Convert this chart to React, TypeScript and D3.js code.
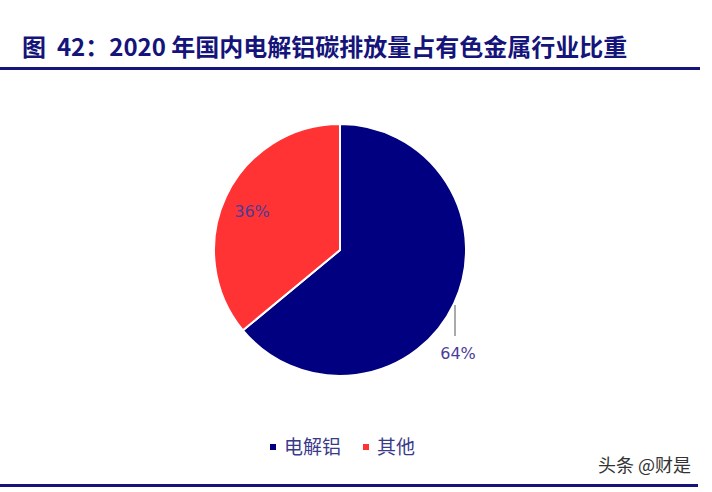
import { useEffect, useRef } from "react";
import { select, pie, arc } from "d3";

const categories = ["电解铝", "其他"];
const values = [64, 36];
const colors = ["#000080", "#ff3333"];

const App = () => {
  const ref = useRef<SVGSVGElement>(null);
  useEffect(() => {
    if (!ref.current) return;
    const svg = select(ref.current);
    svg.selectAll("*").remove();

    const font = "'Noto Sans CJK SC', 'Noto Sans', sans-serif";

    // title
    svg
      .append("text")
      .attr("x", 22)
      .attr("y", 56)
      .attr("font-family", font)
      .attr("font-weight", "bold")
      .attr("font-size", 24)
      .attr("fill", "#14147a")
      .style("white-space", "pre")
      .text("图  42：2020 年国内电解铝碳排放量占有色金属行业比重");

    svg.append("rect").attr("x", 0).attr("y", 67).attr("width", 700).attr("height", 3).attr("fill", "#14147a");
    svg.append("rect").attr("x", 0).attr("y", 484).attr("width", 698).attr("height", 3).attr("fill", "#14147a");

    const cx = 340;
    const cy = 250;
    const r = 126;
    const g = svg.append("g").attr("transform", `translate(${cx},${cy})`);

    const arcs = pie<number>().sort(null)(values);
    const a = arc<any>().innerRadius(0).outerRadius(r);

    g.selectAll("path")
      .data(arcs)
      .enter()
      .append("path")
      .attr("d", a)
      .attr("fill", (_d, i) => colors[i])
      .attr("stroke", "#fff")
      .attr("stroke-width", 2);

    const labelColor = "#4a3d99";
    // 64% with leader line (outside)
    g.append("line")
      .attr("x1", 115)
      .attr("y1", 55)
      .attr("x2", 115)
      .attr("y2", 86)
      .attr("stroke", "#aaaaaa")
      .attr("stroke-width", 2);
    g.append("text")
      .attr("x", 118)
      .attr("y", 109)
      .attr("text-anchor", "middle")
      .attr("font-family", "'DejaVu Sans', sans-serif")
      .attr("font-size", 16)
      .attr("fill", labelColor)
      .text(`${values[0]}%`);
    // 36% inside
    g.append("text")
      .attr("x", -88)
      .attr("y", -33)
      .attr("text-anchor", "middle")
      .attr("font-family", "'DejaVu Sans', sans-serif")
      .attr("font-size", 16)
      .attr("fill", labelColor)
      .text(`${values[1]}%`);

    // legend
    const legendX = [270, 363];
    categories.forEach((c, i) => {
      svg
        .append("rect")
        .attr("x", legendX[i])
        .attr("y", 444)
        .attr("width", 6)
        .attr("height", 6)
        .attr("fill", colors[i]);
      svg
        .append("text")
        .attr("x", legendX[i] + 14)
        .attr("y", 454)
        .attr("font-family", font)
        .attr("font-size", 19)
        .attr("fill", "#3a3a8a")
        .text(c);
    });

    svg
      .append("text")
      .attr("x", 598)
      .attr("y", 472)
      .attr("font-family", font)
      .attr("font-size", 18)
      .attr("fill", "#333")
      .text("头条 @财是");
  }, []);

  return (
    <svg
      ref={ref}
      width={712}
      height={492}
      style={{ position: "absolute", left: 0, top: 0, background: "#fff" }}
    />
  );
};

export default App;
